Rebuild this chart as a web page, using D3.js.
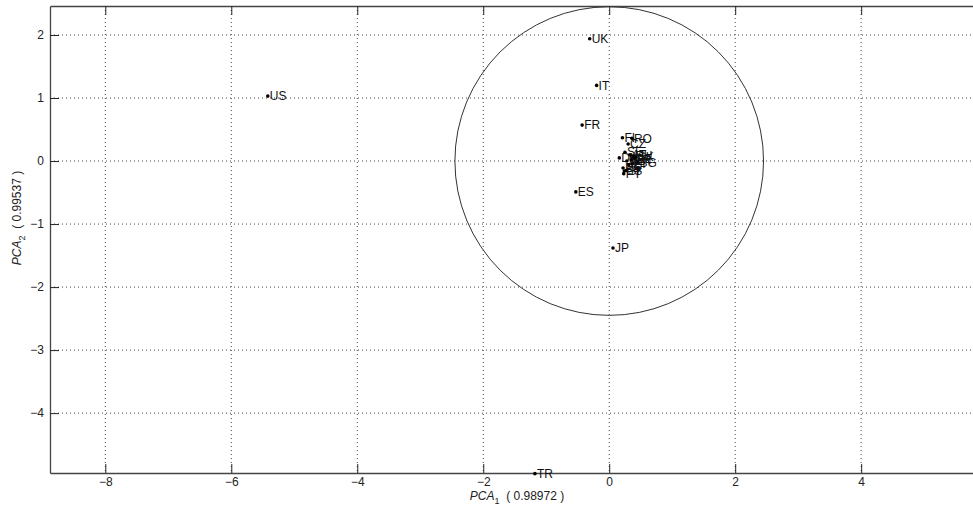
<!DOCTYPE html>
<html>
<head>
<meta charset="utf-8">
<script src="https://cdn.jsdelivr.net/npm/d3@7"></script>
<style>
  body { margin: 0; background: #fff; overflow: hidden; }
  svg { display: block; font-family: "Liberation Sans", Arial, sans-serif; }
  .grid line { stroke: #444; stroke-dasharray: 1 3; stroke-width: 1; }
  .tick-lbl { font-size: 12px; fill: #222; }
  .pt-lbl { font-size: 12px; fill: #111; }
</style>
</head>
<body>
<svg class="pca-svg"></svg>
<script>
// country scores on the first two components
const names = ['UK', 'IT', 'US', 'FR', 'ES', 'JP', 'TR',
    'FI', 'RO', 'CZ', 'SE', 'DK', 'AT', 'BE', 'NL', 'PL', 'BG',
    'HU', 'IE', 'GR', 'PT', 'SK', 'SI', 'LT', 'PS']
const pc1 = [-0.31, -0.20, -5.42, -0.43, -0.53, 0.06, -1.18,
    0.21, 0.36, 0.30, 0.25, 0.16, 0.33, 0.40, 0.28, 0.22, 0.45,
    0.38, 0.31, 0.35, 0.23, 0.42, 0.27, 0.37, 0.24]
const pc2 = [1.94, 1.20, 1.03, 0.57, -0.49, -1.38, -4.96,
    0.37, 0.36, 0.27, 0.14, 0.05, 0.10, 0.04, 0.00, -0.11, -0.02,
    0.08, -0.06, 0.02, -0.20, 0.06, -0.15, -0.04, -0.16]

const xTicks = [-8, -6, -4, -2, 0, 2, 4]
const yTicks = [-4, -3, -2, -1, 0, 1, 2]
const radius = 2.45
const xTitle = ['PCA', '1', '  ( 0.98972 )']
const yTitle = ['PCA', '2', '  ( 0.99537 )']

const draw = () => {

    const width = 973
    const height = 515

    const svg = d3.select('.pca-svg')
        .attr('width', width)
        .attr('height', height)

    const left = 50, right = 984, top = 6, bottom = 473

    const x = d3.scaleLinear().domain([-8.878, 5.95]).range([left, right])
    const y = d3.scaleLinear().domain([-4.95, 2.46]).range([bottom, top])

    // dotted grid
    const grid = svg.append('g').attr('class', 'grid')
    grid.selectAll('.gx')
        .data(xTicks)
        .enter()
        .append('line')
        .attr('x1', d => x(d)).attr('x2', d => x(d))
        .attr('y1', top).attr('y2', bottom)
    grid.selectAll('.gy')
        .data(yTicks)
        .enter()
        .append('line')
        .attr('y1', d => y(d)).attr('y2', d => y(d))
        .attr('x1', left).attr('x2', right)

    // axes, ticks pointing inward, on all sides
    const axCol = '#444'
    const tl = 9

    const axB = svg.append('g').attr('transform', `translate(0,${bottom})`)
        .call(d3.axisBottom(x).tickValues(xTicks).tickSizeInner(-tl).tickSizeOuter(0).tickPadding(4))
    const axT = svg.append('g').attr('transform', `translate(0,${top})`)
        .call(d3.axisTop(x).tickValues(xTicks).tickSizeInner(-tl).tickSizeOuter(0).tickFormat(''))
    const axL = svg.append('g').attr('transform', `translate(${left},0)`)
        .call(d3.axisLeft(y).tickValues(yTicks).tickSizeInner(-tl).tickSizeOuter(0).tickPadding(6))
    const axR = svg.append('g').attr('transform', `translate(${right},0)`)
        .call(d3.axisRight(y).tickValues(yTicks).tickSizeInner(-tl).tickSizeOuter(0).tickFormat(''))

    ;[axB, axT, axL, axR].forEach(a => {
        a.select('.domain').attr('stroke', axCol).attr('stroke-width', 1.3)
        a.selectAll('.tick line').attr('stroke', '#222')
        a.selectAll('.tick text').attr('class', 'tick-lbl').attr('font-size', null).attr('font-family', null)
    })

    // unit circle of the correlation
    svg.append('circle')
        .attr('cx', x(0))
        .attr('cy', y(0))
        .attr('r', x(radius) - x(0))
        .attr('fill', 'none')
        .attr('stroke', '#333')
        .attr('stroke-width', 1)

    const pts = names.map((n, i) => ({ name : n, px : pc1[i], py : pc2[i] }))

    const g = svg.selectAll('.pt')
        .data(pts)
        .enter()
        .append('g')
        .attr('transform', d => `translate(${x(d.px)},${y(d.py)})`)

    g.append('circle').attr('r', 1.8).attr('fill', '#000')
    g.append('text')
        .attr('class', 'pt-lbl')
        .attr('x', 2)
        .attr('dy', '0.35em')
        .text(d => d.name)

    // axis titles with subscripts
    const xt = svg.append('text')
        .attr('x', (left + right) / 2)
        .attr('y', 500)
        .attr('text-anchor', 'middle')
        .attr('font-size', 12)
        .attr('fill', '#222')
    xt.append('tspan').attr('font-style', 'italic').text(xTitle[0])
    xt.append('tspan').attr('font-size', 9).attr('dy', 4).text(xTitle[1])
    xt.append('tspan').attr('dy', -4).attr('xml:space', 'preserve').text(xTitle[2])

    const yt = svg.append('text')
        .attr('transform', `translate(21,218) rotate(-90)`)
        .attr('text-anchor', 'middle')
        .attr('font-size', 12)
        .attr('fill', '#222')
    yt.append('tspan').attr('font-style', 'italic').text(yTitle[0])
    yt.append('tspan').attr('font-size', 9).attr('dy', 4).text(yTitle[1])
    yt.append('tspan').attr('dy', -4).attr('xml:space', 'preserve').text(yTitle[2])
}

draw()
</script>
</body>
</html>
